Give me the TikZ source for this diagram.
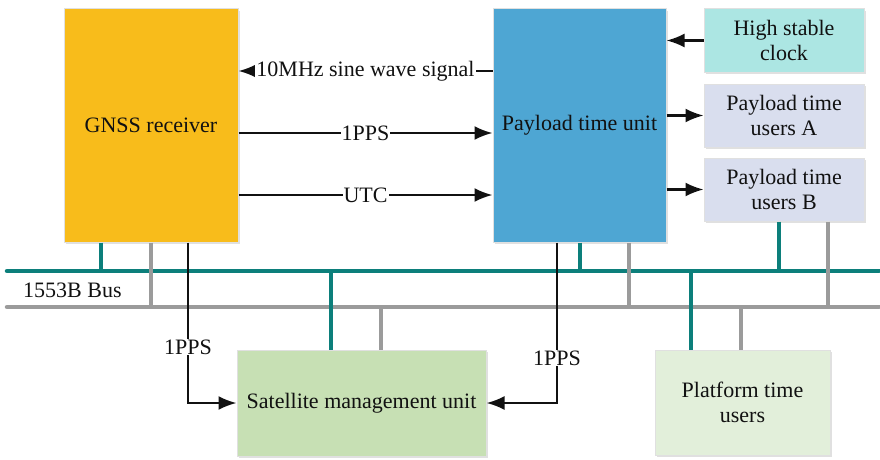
\documentclass[tikz,border=0pt]{standalone}
\usepackage{fontspec}
\setmainfont{Liberation Serif}
\newfontfamily\diagfont{Liberation Serif}
\usetikzlibrary{arrows.meta,calc}
\definecolor{gnssc}{HTML}{F8BC1B}
\definecolor{ptuc}{HTML}{4EA6D3}
\definecolor{clockc}{HTML}{ACE6E3}
\definecolor{userc}{HTML}{D9DEEE}
\definecolor{smuc}{HTML}{C7E0B4}
\definecolor{platc}{HTML}{E2EFDA}
\definecolor{busteal}{HTML}{0C7F7B}
\definecolor{busgray}{HTML}{9B9B9B}
\definecolor{txt}{HTML}{111111}
\tikzset{
  box/.style={draw=black!12, line width=1pt, rectangle, align=center,
    inner sep=2pt, text=txt,
    font=\diagfont\fontsize{22}{25}\selectfont,
    preaction={fill=black!12, transform canvas={xshift=2pt,yshift=-2pt}}},
  sig/.style={line width=2.2pt, draw=txt, -{Latex[length=18pt,width=14pt]}},
  lbl/.style={fill=white, inner sep=1pt, text=txt, font=\diagfont\fontsize{22}{25}\selectfont},
  tbus/.style={line width=4.5pt, draw=busteal, line cap=round},
  gbus/.style={line width=4.5pt, draw=busgray, line cap=round},
  tstub/.style={line width=4pt, draw=busteal},
  gstub/.style={line width=4pt, draw=busgray}
}
\begin{document}
\begin{tikzpicture}[x=1pt,y=-1pt]
\useasboundingbox (0,0) rectangle (880,460);

% units
\node[box, fill=gnssc, minimum width=174pt, minimum height=233pt] (gnss) at (151,125.5) {GNSS receiver};
\node[box, fill=ptuc, minimum width=173pt, minimum height=233pt] (ptu) at (579.5,125.5) {Payload time unit};
\node[box, fill=clockc, minimum width=160pt, minimum height=63pt] (clock) at (784,40.5) {High stable\\clock};
\node[box, fill=userc, minimum width=160pt, minimum height=63pt] (usra) at (784,115.5) {Payload time\\users A};
\node[box, fill=userc, minimum width=160pt, minimum height=63pt] (usrb) at (784,189.5) {Payload time\\users B};
\node[box, fill=smuc, minimum width=249pt, minimum height=106pt] (smu) at (361.5,403) {Satellite management unit};
\node[box, fill=platc, minimum width=175pt, minimum height=105pt] (plat) at (742.5,402.5) {Platform time\\users};

% 1553B bus lines
\coordinate (tl) at (7,271);
\coordinate (tr) at (879,271);
\coordinate (gl) at (7,307);
\coordinate (gr) at (879,307);
\draw[tbus] (tl) -- (tr);
\draw[gbus] (gl) -- (gr);
\node[lbl, fill=none, anchor=west] (buslbl) at (22,290) {1553B Bus};

% bus stubs
\draw[tstub] ([xshift=-50pt]gnss.south) -- ([xshift=-50pt]gnss.south |- tl);
\draw[gstub] (gnss.south) -- (gnss.south |- gl);
\draw[tstub] (ptu.south) -- (ptu.south |- tl);
\draw[gstub] ([xshift=49.5pt]ptu.south) -- ([xshift=49.5pt]ptu.south |- gl);
\draw[tstub] ([xshift=-5pt]usrb.south) -- ([xshift=-5pt]usrb.south |- tl);
\draw[gstub] ([xshift=44pt]usrb.south) -- ([xshift=44pt]usrb.south |- gl);
\draw[tstub] ([xshift=-30.5pt]smu.north) -- ([xshift=-30.5pt]smu.north |- tl);
\draw[gstub] ([xshift=19.5pt]smu.north) -- ([xshift=19.5pt]smu.north |- gl);
\draw[tstub] ([xshift=-51.5pt]plat.north) -- ([xshift=-51.5pt]plat.north |- tl);
\draw[gstub] ([xshift=-1.5pt]plat.north) -- ([xshift=-1.5pt]plat.north |- gl);

% signals between GNSS receiver and payload time unit
\draw[sig] (ptu.west |- 0,71) -- node[lbl] {10MHz sine wave signal} (gnss.east |- 0,71);
\draw[sig] (gnss.east |- 0,133) -- node[lbl] {1PPS} (ptu.west |- 0,133);
\draw[sig] (gnss.east |- 0,195) -- node[lbl] {UTC} (ptu.west |- 0,195);

% payload side
\draw[sig] (clock.west) -- (clock.west -| ptu.east);
\draw[sig] (usra.west -| ptu.east) -- (usra.west);
\draw[sig] (usrb.west -| ptu.east) -- (usrb.west);

% 1PPS to the satellite management unit
\draw[sig] ([xshift=37pt]gnss.south) |- (smu.west);
\node[lbl] (ppsl) at (188,347) {1PPS};
\draw[sig] ([xshift=-22.5pt]ptu.south) |- (smu.east);
\node[lbl] (ppsr) at (557,358) {1PPS};
\end{tikzpicture}
\end{document}
